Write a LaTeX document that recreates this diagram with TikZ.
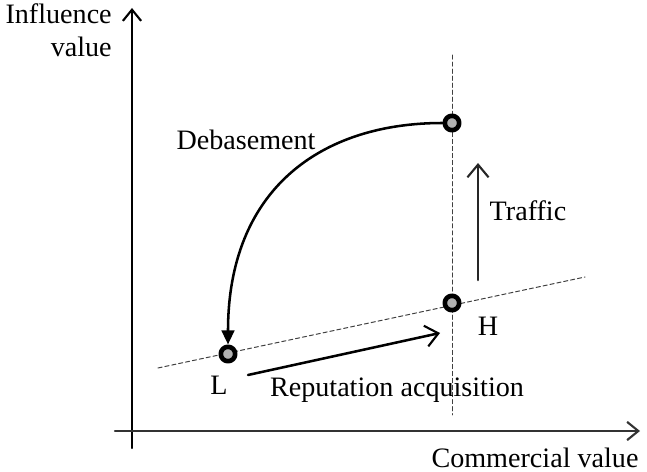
\documentclass[tikz,border=0pt]{standalone}
\usepackage{fontspec}
\setmainfont{Liberation Serif}
\usetikzlibrary{arrows.meta}

\begin{document}
\begin{tikzpicture}[x=0.025cm,y=-0.025cm,line cap=round,line join=round,font=\fontsize{20}{24}\selectfont]
\tikzset{
  axis/.style={line width=1.7pt,-{Straight Barb[length=8pt,width=13pt,line width=1.5pt]}},
  guide/.style={dashed,dash pattern=on 3pt off 2pt,line width=0.7pt,black!75},
  move/.style={line width=1.8pt,-{Straight Barb[length=9pt,width=15pt,line width=1.5pt]}},
  state/.style={circle,draw=black,line width=3.3pt,fill=black!30,inner sep=0pt,minimum size=0.36cm}
}
\useasboundingbox (0,0) rectangle (647,472);
% axes
\coordinate (O) at (132,431);
\coordinate (yend) at (132,8);\coordinate (ybot) at (132,448);
\coordinate (xend) at (640,431);\coordinate (xbeg) at (115,431);
\draw[axis] (ybot)--(yend);
\draw[axis,black!80] (xbeg)--(xend);
\node[align=right,anchor=north east,inner sep=0pt] (ylab) at (112,3) {Influence\\value};
\node (xlab) at (535,458) {Commercial value};
% guide lines
\coordinate (va) at (452,55);\coordinate (vb) at (452,415);
\coordinate (sa) at (158,368);\coordinate (sb) at (585,277);
\draw[guide] (va)--(vb);
\draw[guide] (sa)--(sb);
% states
\node[state] (T) at (452,123) {};
\node[state] (H) at (452,303) {};
\node[state] (L) at (228,354) {};
\node (hlab) at (488,326) {H};
\node (llab) at (219,385) {L};
% moves
\draw[line width=1.8pt,-{Triangle[length=10pt,width=9pt]}] (T.west) .. controls (320,123) and (228,190) .. (L.north);
\node (deb) at (246,140) {Debasement};
\coordinate (tra) at (478,280);\coordinate (trb) at (478,163);
\draw[move,black!85] (tra)--(trb);
\node (traf) at (528,211) {Traffic};
\coordinate (rea) at (248,375);\coordinate (reb) at (440,333);
\draw[move] (rea)--(reb);
\node (rep) at (397,390) {Reputation acquisition};
\end{tikzpicture}
\end{document}
